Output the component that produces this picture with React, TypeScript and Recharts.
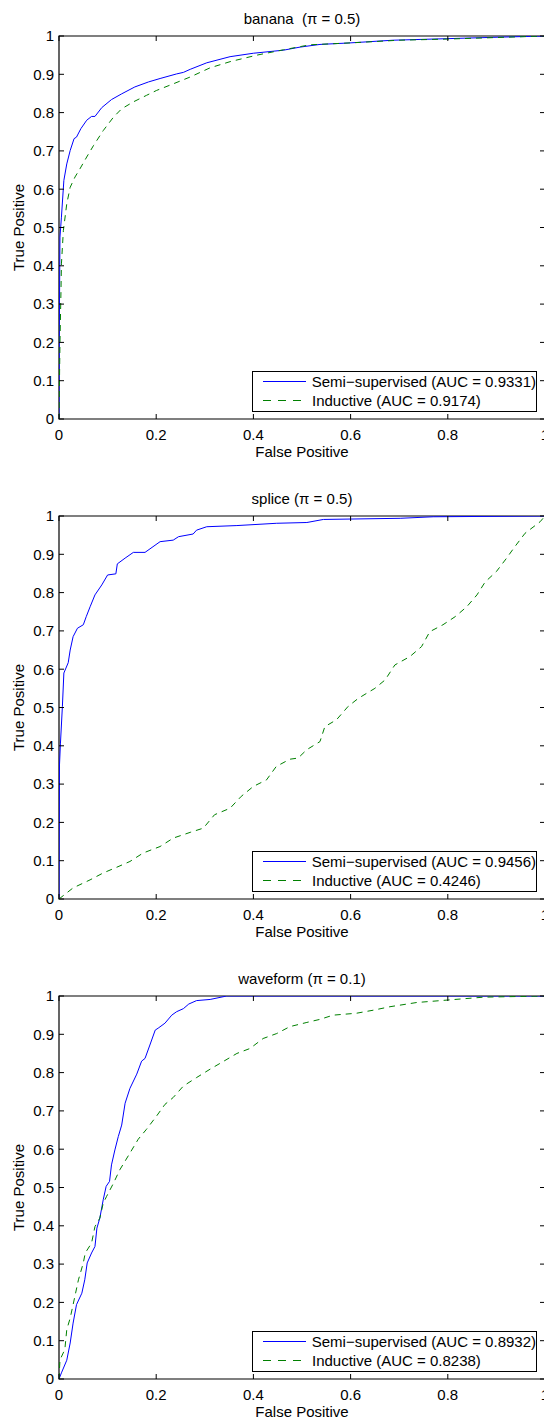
import React from 'react';
import { LineChart, Line, XAxis, YAxis, ReferenceArea, Legend } from 'recharts';

// ROC curves, as [false positive, true positive]
const bananaSemi: [number, number][] = [
  [0, 0], [0.001, 0.3], [0.002, 0.475], [0.005, 0.527], [0.01, 0.623], [0.016, 0.666],
  [0.023, 0.701], [0.031, 0.732], [0.036, 0.736], [0.045, 0.758], [0.057, 0.78],
  [0.067, 0.79], [0.074, 0.79], [0.088, 0.813], [0.108, 0.834], [0.129, 0.849],
  [0.156, 0.867], [0.184, 0.88], [0.208, 0.889], [0.242, 0.901], [0.256, 0.905],
  [0.27, 0.913], [0.304, 0.93], [0.352, 0.946], [0.4, 0.955], [0.462, 0.963],
  [0.496, 0.971], [0.537, 0.978], [0.599, 0.982], [0.687, 0.989], [0.798, 0.993],
  [0.907, 0.997], [1, 1],
];
const bananaInd: [number, number][] = [
  [0, 0], [0.002, 0.2], [0.004, 0.33], [0.005, 0.405], [0.009, 0.492], [0.016, 0.562],
  [0.023, 0.605], [0.033, 0.632], [0.043, 0.653], [0.057, 0.684], [0.071, 0.714],
  [0.091, 0.753], [0.112, 0.788], [0.129, 0.81], [0.153, 0.828], [0.18, 0.845],
  [0.201, 0.858], [0.235, 0.875], [0.27, 0.893], [0.311, 0.917], [0.352, 0.933],
  [0.407, 0.95], [0.462, 0.964], [0.516, 0.977], [0.6, 0.982], [0.7, 0.989],
  [0.8, 0.992], [0.9, 0.996], [1, 1],
];
const spliceSemi: [number, number][] = [
  [0, 0], [0.001, 0.35], [0.003, 0.407], [0.007, 0.503], [0.01, 0.59], [0.019, 0.617],
  [0.023, 0.65], [0.029, 0.685], [0.038, 0.707], [0.05, 0.716], [0.056, 0.737],
  [0.064, 0.763], [0.074, 0.794], [0.088, 0.82], [0.1, 0.846], [0.117, 0.849],
  [0.12, 0.875], [0.136, 0.89], [0.153, 0.905], [0.177, 0.905], [0.208, 0.933],
  [0.235, 0.937], [0.246, 0.946], [0.276, 0.953], [0.283, 0.963], [0.304, 0.972],
  [0.366, 0.975], [0.448, 0.981], [0.51, 0.983], [0.544, 0.991], [0.702, 0.994],
  [0.77, 0.998], [1, 1],
];
const spliceInd: [number, number][] = [
  [0, 0], [0.029, 0.029], [0.064, 0.05], [0.091, 0.068], [0.119, 0.083], [0.146, 0.098],
  [0.173, 0.12], [0.208, 0.137], [0.235, 0.159], [0.27, 0.174], [0.297, 0.185],
  [0.32, 0.22], [0.352, 0.237], [0.375, 0.268], [0.4, 0.294], [0.427, 0.311],
  [0.447, 0.346], [0.475, 0.365], [0.492, 0.368], [0.51, 0.39], [0.537, 0.411],
  [0.547, 0.45], [0.571, 0.468], [0.595, 0.503], [0.616, 0.524], [0.65, 0.55],
  [0.671, 0.572], [0.691, 0.611], [0.722, 0.633], [0.746, 0.659], [0.763, 0.698],
  [0.79, 0.716], [0.815, 0.737], [0.839, 0.763], [0.86, 0.794], [0.877, 0.828],
  [0.9, 0.855], [0.921, 0.89], [0.938, 0.92], [0.959, 0.955], [0.99, 0.985], [1, 1],
];
const waveSemi: [number, number][] = [
  [0, 0], [0.005, 0.016], [0.016, 0.049], [0.023, 0.094], [0.029, 0.146], [0.036, 0.194],
  [0.047, 0.224], [0.053, 0.259], [0.058, 0.303], [0.067, 0.329], [0.074, 0.346],
  [0.078, 0.394], [0.084, 0.42], [0.091, 0.468], [0.097, 0.503], [0.104, 0.516],
  [0.108, 0.559], [0.115, 0.598], [0.122, 0.633], [0.129, 0.663], [0.136, 0.72],
  [0.146, 0.759], [0.16, 0.796], [0.17, 0.83], [0.177, 0.837], [0.187, 0.872],
  [0.198, 0.911], [0.204, 0.916], [0.218, 0.929], [0.232, 0.95], [0.242, 0.959],
  [0.256, 0.967], [0.267, 0.979], [0.283, 0.988], [0.311, 0.991], [0.345, 1], [1, 1],
];
const waveInd: [number, number][] = [
  [0, 0], [0.002, 0.05], [0.012, 0.077], [0.016, 0.129], [0.023, 0.159], [0.029, 0.194],
  [0.04, 0.259], [0.05, 0.303], [0.054, 0.329], [0.067, 0.355], [0.074, 0.398],
  [0.084, 0.42], [0.091, 0.459], [0.098, 0.477], [0.112, 0.511], [0.125, 0.546],
  [0.146, 0.59], [0.163, 0.626], [0.18, 0.652], [0.201, 0.687], [0.218, 0.717],
  [0.235, 0.735], [0.256, 0.765], [0.283, 0.787], [0.311, 0.809], [0.338, 0.829],
  [0.366, 0.85], [0.393, 0.863], [0.42, 0.889], [0.448, 0.902], [0.475, 0.92],
  [0.51, 0.931], [0.537, 0.939], [0.564, 0.95], [0.612, 0.955], [0.647, 0.963],
  [0.681, 0.972], [0.736, 0.983], [0.805, 0.99], [0.874, 0.997], [1, 1],
];

const xTicks = [0, 0.2, 0.4, 0.6, 0.8, 1];
const yTicks = [0, 0.1, 0.2, 0.3, 0.4, 0.5, 0.6, 0.7, 0.8, 0.9, 1];

const FONT = '"Liberation Sans", Arial, Helvetica, sans-serif';
const PLOT_W = 486;
const PLOT_H = 383;
const BLUE = '#0000ff';
const GREEN = '#008000';

const toPoints = (arr: [number, number][]) => arr.map(([x, y]) => ({ x, y }));

const XTick = (props: any) => {
  const { x, y, payload } = props;
  return (
    <g>
      <line x1={x} y1={y} x2={x} y2={y - 5} stroke="#000" />
      <line x1={x} y1={y - PLOT_H} x2={x} y2={y - PLOT_H + 5} stroke="#000" />
      <text x={x} y={y + 21} textAnchor="middle" fontSize={15} fontFamily={FONT} fill="#000">
        {payload.value}
      </text>
    </g>
  );
};

const YTick = (props: any) => {
  const { x, y, payload } = props;
  return (
    <g>
      <line x1={x} y1={y} x2={x + 5} y2={y} stroke="#000" />
      <line x1={x + PLOT_W} y1={y} x2={x + PLOT_W - 5} y2={y} stroke="#000" />
      <text x={x - 5} y={y + 5.3} textAnchor="end" fontSize={15} fontFamily={FONT} fill="#000">
        {payload.value}
      </text>
    </g>
  );
};

function LegendBox({ semiAuc, indAuc }: { semiAuc: string; indAuc: string }) {
  const row = (dashed: boolean, color: string, label: string) => (
    <div style={{ display: 'flex', alignItems: 'center', height: 19 }}>
      <svg width={59} height={19} style={{ display: 'block' }}>
        <line x1={10} y1={9.5} x2={53} y2={9.5} stroke={color} strokeWidth={1}
          strokeDasharray={dashed ? '8 7' : undefined} />
      </svg>
      <span style={{ fontSize: 15, fontFamily: FONT, color: '#000', whiteSpace: 'pre', lineHeight: '19px' }}>
        {label}
      </span>
    </div>
  );
  return (
    <div style={{ border: '1px solid #000', background: '#fff', width: 283, height: 39, boxSizing: 'content-box' }}>
      {row(false, BLUE, `Semi\u2212supervised (AUC = ${semiAuc})`)}
      {row(true, GREEN, `Inductive (AUC = ${indAuc})`)}
    </div>
  );
}

function RocPanel({ title, semi, ind, semiAuc, indAuc }: {
  title: string; semi: [number, number][]; ind: [number, number][]; semiAuc: string; indAuc: string;
}) {
  return (
    <div style={{ position: 'relative', width: 548, height: 480 }}>
      <div style={{
        position: 'absolute', left: 0, width: 604, top: 10, textAlign: 'center',
        fontSize: 15, fontFamily: FONT, whiteSpace: 'pre', lineHeight: '18px', color: '#000',
      }}>
        {title}
      </div>
      <LineChart width={548} height={480} margin={{ top: 36, right: 3, left: 0, bottom: 0 }}>
        <XAxis dataKey="x" type="number" domain={[0, 1]} ticks={xTicks} height={61}
          axisLine={false} tickLine={false} tickSize={0} tickMargin={0} tick={<XTick />}
          interval={0} allowDataOverflow
          label={{ value: 'False Positive', position: 'insideTop', offset: 0, dy: 27, fontSize: 15, fontFamily: FONT, fill: '#000' }} />
        <YAxis type="number" domain={[0, 1]} ticks={yTicks} width={59}
          axisLine={false} tickLine={false} tickSize={0} tickMargin={0} tick={<YTick />}
          interval={0} allowDataOverflow
          label={{ value: 'True Positive', angle: -90, position: 'center', dx: -11, fontSize: 15, fontFamily: FONT, fill: '#000' }} />
        <ReferenceArea x1={0} x2={1} y1={0} y2={1} fill="none" stroke="#000" strokeWidth={1.2} ifOverflow="visible" />
        <Line data={toPoints(semi)} dataKey="y" type="linear" stroke={BLUE} strokeWidth={1}
          dot={false} activeDot={false} isAnimationActive={false} />
        <Line data={toPoints(ind)} dataKey="y" type="linear" stroke={GREEN} strokeWidth={1}
          strokeDasharray="6 5" dot={false} activeDot={false} isAnimationActive={false} />
        <Legend layout="vertical" align="center" verticalAlign="middle"
          wrapperStyle={{ left: 252, top: 371, width: 285, height: 41 }}
          content={() => <LegendBox semiAuc={semiAuc} indAuc={indAuc} />} />
      </LineChart>
    </div>
  );
}

export default function App() {
  return (
    <div style={{ position: 'absolute', left: 0, top: 0, width: 544, height: 1418, overflow: 'hidden', background: '#fff' }}>
      <RocPanel title={'banana  (\u03c0 = 0.5)'} semi={bananaSemi} ind={bananaInd} semiAuc="0.9331" indAuc="0.9174" />
      <RocPanel title={'splice (\u03c0 = 0.5)'} semi={spliceSemi} ind={spliceInd} semiAuc="0.9456" indAuc="0.4246" />
      <RocPanel title={'waveform (\u03c0 = 0.1)'} semi={waveSemi} ind={waveInd} semiAuc="0.8932" indAuc="0.8238" />
    </div>
  );
}
